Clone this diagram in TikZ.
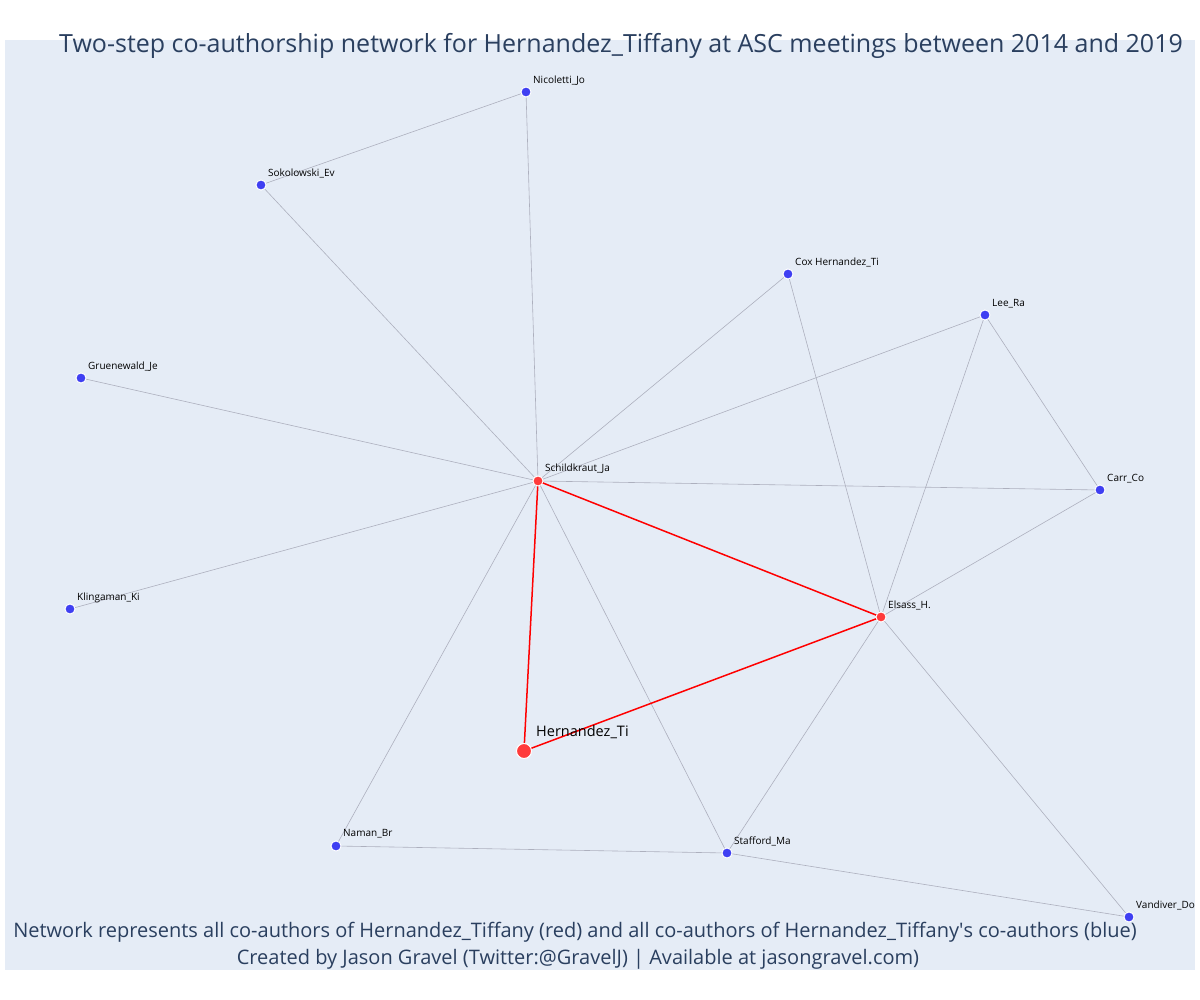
\documentclass[tikz,border=0pt]{standalone}
\usepackage{fontspec}
\setmainfont{Open Sans}
\definecolor{bgc}{HTML}{E5ECF6}
\definecolor{titc}{HTML}{2A3F5F}
\definecolor{edgec}{HTML}{ADB0BE}
\definecolor{bluen}{HTML}{3F3FF2}
\definecolor{redn}{HTML}{FF3B3B}
\tikzset{
  bnode/.style={circle,fill=bluen,draw=white,line width=0.9pt,inner sep=0pt,minimum size=10pt},
  rnode/.style={circle,fill=redn,draw=white,line width=0.9pt,inner sep=0pt,minimum size=10pt},
  hnode/.style={circle,fill=redn,draw=white,line width=1pt,inner sep=0pt,minimum size=15pt},
  lab/.style={anchor=west,inner sep=0pt,font=\fontsize{10}{11}\selectfont,text=black,yshift=-1.5pt},
  biglab/.style={anchor=west,inner sep=0pt,font=\fontsize{14.5}{16}\selectfont,text=black,yshift=-1pt},
  gedge/.style={draw=edgec,line width=0.6pt},
  redge/.style={draw=red,line width=1.5pt},
}
\begin{document}
\begin{tikzpicture}[x=1pt,y=-1pt]
\useasboundingbox (0,0) rectangle (1200,1000);
\fill[white] (0,0) rectangle (1200,1000);
\fill[bgc] (5,40) rectangle (1195,970);
% nodes
\node[bnode] (nic) at (526,92) {};
\node[bnode] (sok) at (261,185) {};
\node[bnode] (cox) at (788,274) {};
\node[bnode] (lee) at (985,315) {};
\node[bnode] (gru) at (81,378) {};
\node[bnode] (car) at (1100,490) {};
\node[bnode] (kli) at (70,609) {};
\node[bnode] (nam) at (336,846) {};
\node[bnode] (sta) at (727,853) {};
\node[bnode] (van) at (1129,917) {};
\node[rnode] (sch) at (538,481) {};
\node[rnode] (els) at (881,617) {};
\node[hnode] (her) at (524,751) {};
% edges
\path[gedge] (nic.center) -- (sok.center);
\path[gedge] (nic.center) -- (sch.center);
\path[gedge] (sok.center) -- (sch.center);
\path[gedge] (cox.center) -- (sch.center);
\path[gedge] (cox.center) -- (els.center);
\path[gedge] (lee.center) -- (sch.center);
\path[gedge] (lee.center) -- (els.center);
\path[gedge] (lee.center) -- (car.center);
\path[gedge] (gru.center) -- (sch.center);
\path[gedge] (sch.center) -- (car.center);
\path[gedge] (car.center) -- (els.center);
\path[gedge] (kli.center) -- (sch.center);
\path[gedge] (sch.center) -- (nam.center);
\path[gedge] (sch.center) -- (sta.center);
\path[gedge] (els.center) -- (sta.center);
\path[gedge] (els.center) -- (van.center);
\path[gedge] (nam.center) -- (sta.center);
\path[gedge] (sta.center) -- (van.center);
\path[redge] (sch.center) -- (els.center);
\path[redge] (sch.center) -- (her.center);
\path[redge] (els.center) -- (her.center);
% redraw nodes on top
\node[bnode] at (nic) {};
\node[bnode] at (sok) {};
\node[bnode] at (cox) {};
\node[bnode] at (lee) {};
\node[bnode] at (gru) {};
\node[bnode] at (car) {};
\node[bnode] at (kli) {};
\node[bnode] at (nam) {};
\node[bnode] at (sta) {};
\node[bnode] at (van) {};
\node[rnode] at (sch) {};
\node[rnode] at (els) {};
\node[hnode] at (her) {};
% labels
\node[lab] (lnic) at (533,79) {Nicoletti\_Jo};
\node[lab] (lsok) at (268,172) {Sokolowski\_Ev};
\node[lab] (lcox) at (795,261) {Cox Hernandez\_Ti};
\node[lab] (llee) at (992,302) {Lee\_Ra};
\node[lab] (lgru) at (88,365) {Gruenewald\_Je};
\node[lab] (lsch) at (545,467) {Schildkraut\_Ja};
\node[lab] (lcar) at (1107,477) {Carr\_Co};
\node[lab] (lkli) at (77,596) {Klingaman\_Ki};
\node[lab] (lels) at (888,604) {Elsass\_H.};
\node[lab] (lnam) at (343,832) {Naman\_Br};
\node[lab] (lsta) at (734,840) {Stafford\_Ma};
\node[lab] (lvan) at (1136,904) {Vandiver\_Do};
\node[biglab] (lher) at (536,731) {Hernandez\_Ti};
% title and footer
\node[text=titc,font=\fontsize{25}{29}\selectfont,inner sep=0pt] (title) at (621,46) {Two-step co-authorship network for Hernandez\_Tiffany at ASC meetings between 2014 and 2019};
\node[text=titc,font=\fontsize{20}{24}\selectfont,inner sep=0pt] (foot1) at (575,932) {Network represents all co-authors of Hernandez\_Tiffany (red) and all co-authors of Hernandez\_Tiffany\textquotesingle s co-authors (blue)};
\node[text=titc,font=\fontsize{20}{24}\selectfont,inner sep=0pt] (foot2) at (578,959) {Created by Jason Gravel (Twitter:@GravelJ) | Available at jasongravel.com)};
\end{tikzpicture}
\end{document}
